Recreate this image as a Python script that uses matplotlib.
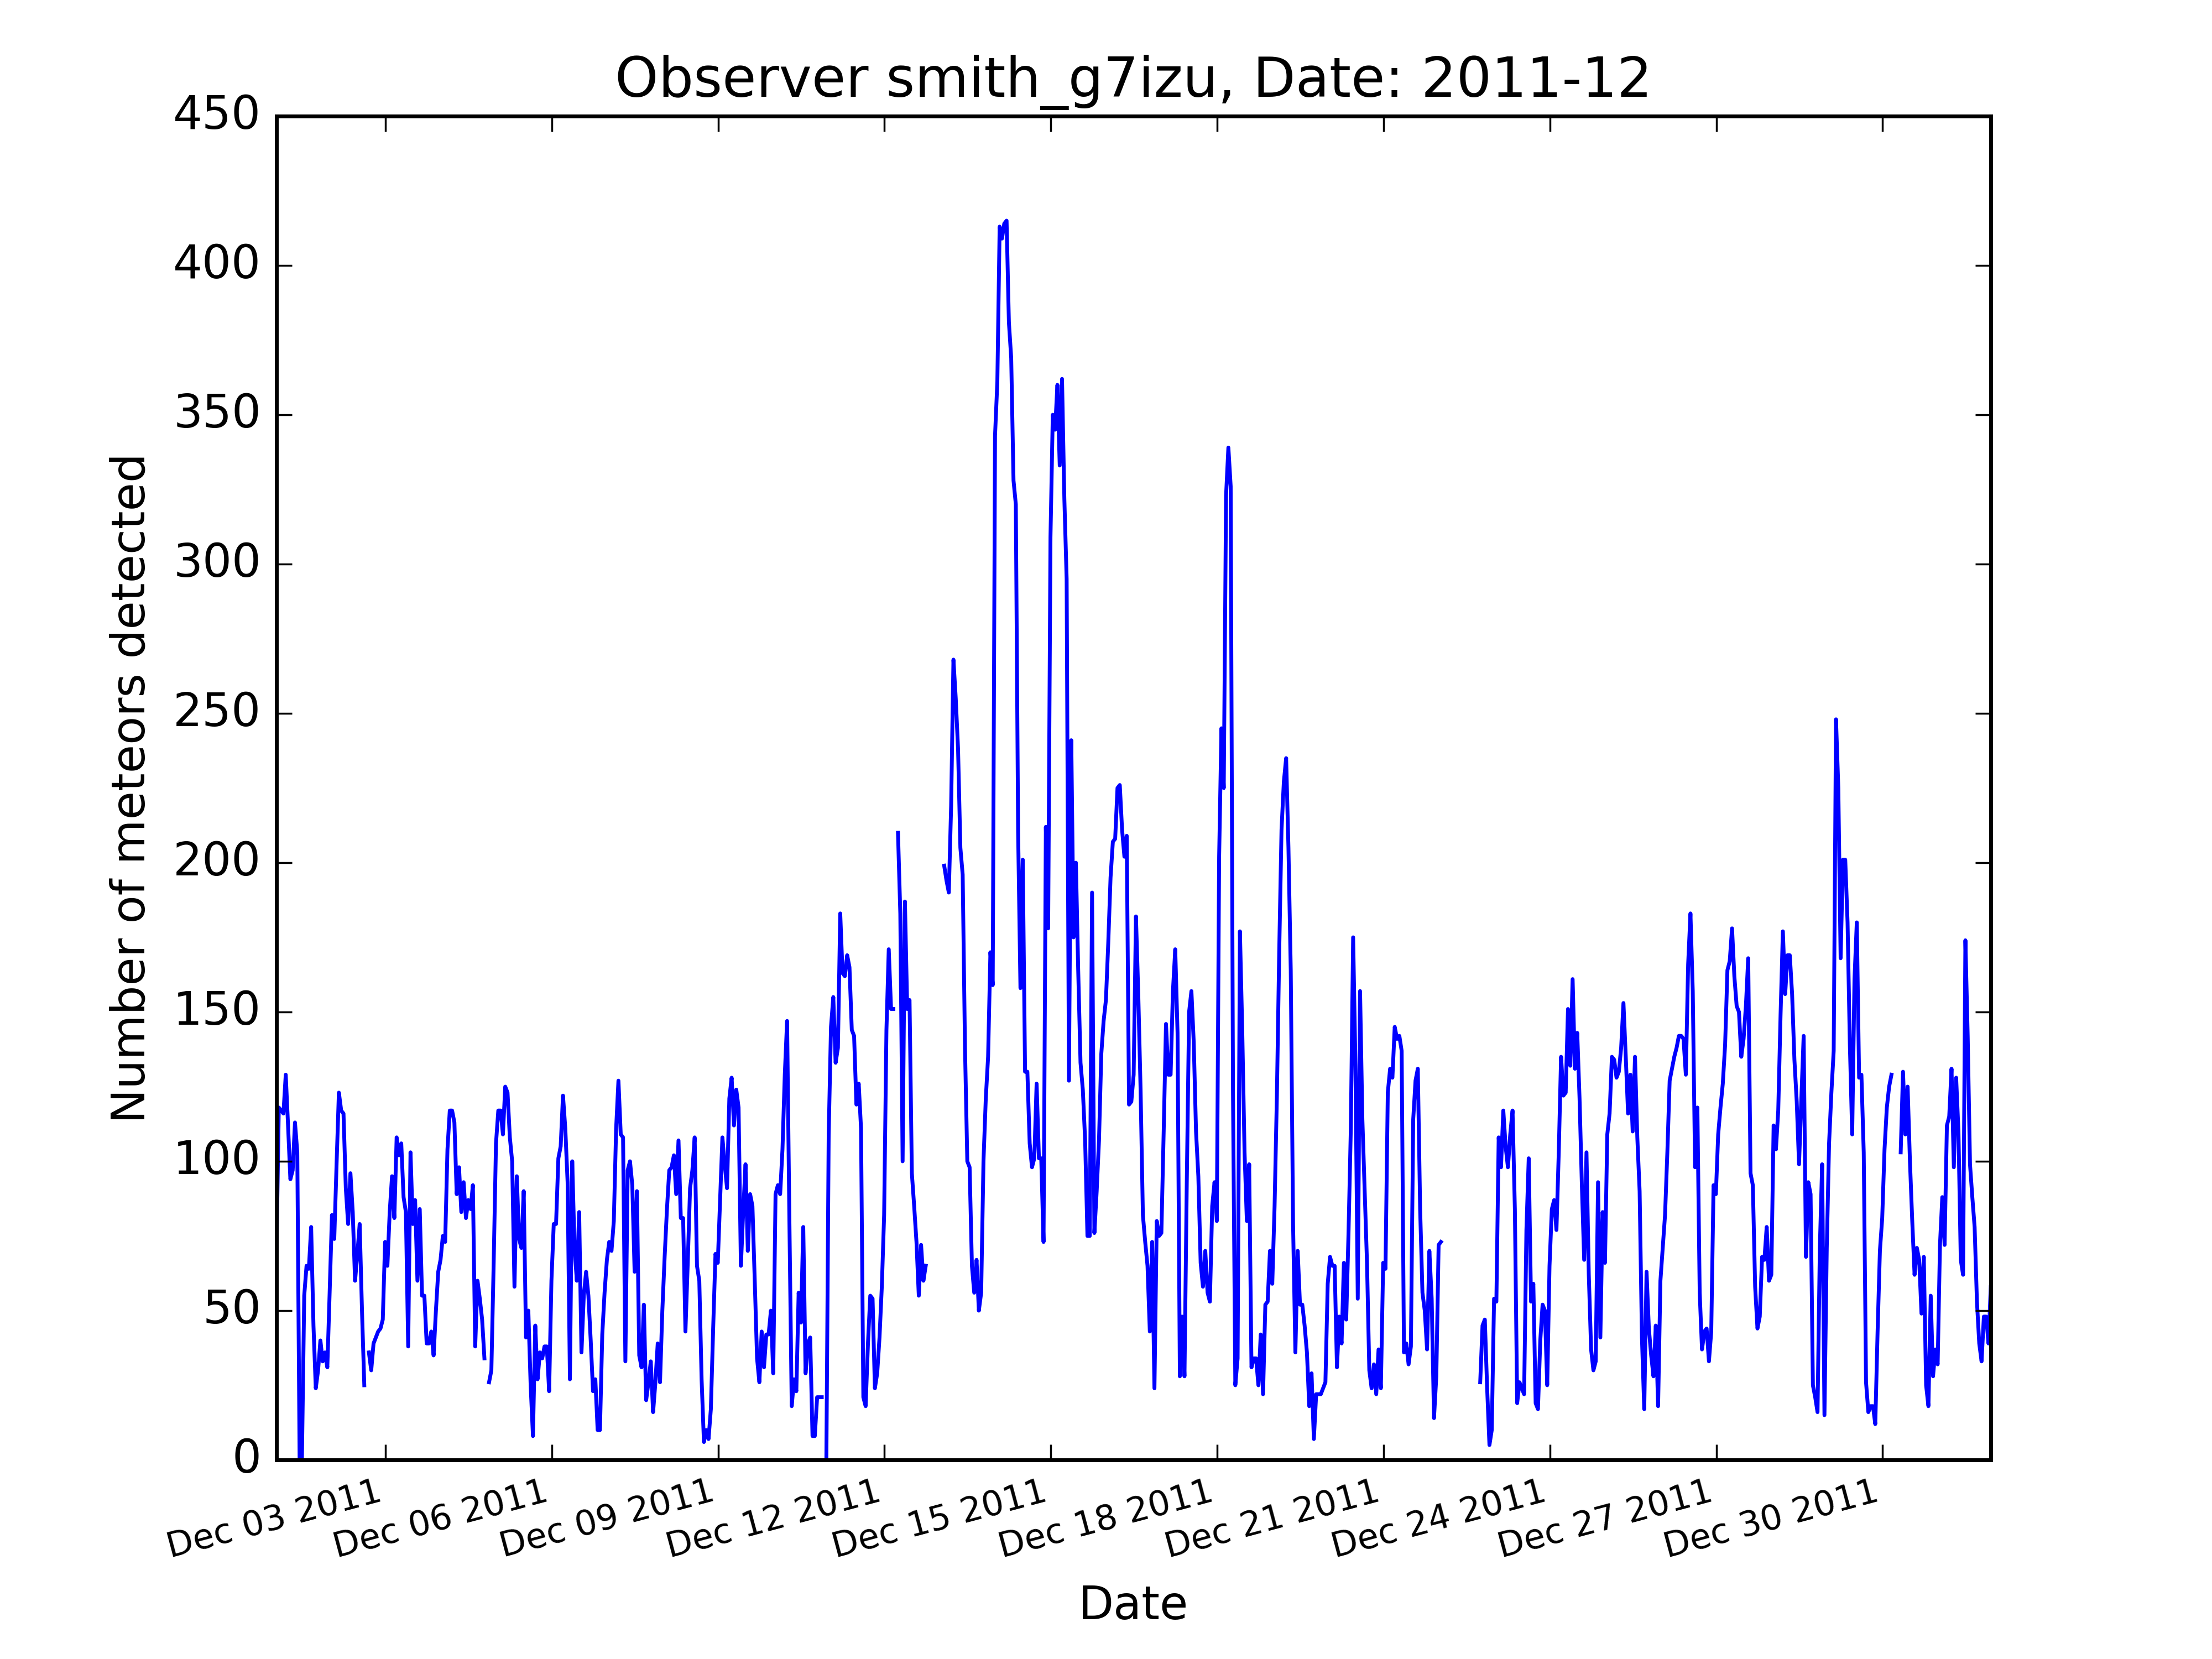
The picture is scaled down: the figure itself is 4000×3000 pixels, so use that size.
import numpy as np
import pandas as pd
import matplotlib
matplotlib.use('Agg')
import matplotlib.pyplot as plt
import matplotlib.dates as mdates

nan = np.nan

# hourly meteor counts, one list per day (first sample at 00:50 on Dec 1)
dec01 = [70, 118, 117, 116, 129, 112, 94, 97, 113, 103, 0, 0, 55, 65, 64, 78, 45, 24, 30, 40, 33, 36, 31, 56]
dec02 = [82, 74, 99, 123, 117, 116, 91, 79, 96, 83, 60, 69, 79, 50, 25, nan, 36, 30, 39, 41, 43, 44, 47, 73]
dec03 = [65, 83, 95, 81, 108, 102, 106, 88, 83, 38, 103, 79, 87, 60, 84, 55, 55, 39, 39, 43, 35, 50, 63, 67]
dec04 = [75, 73, 104, 117, 117, 113, 89, 98, 83, 93, 81, 87, 84, 92, 38, 60, 54, 47, 34, nan, 26, 30, 66, 106]
dec05 = [117, 117, 109, 125, 123, 108, 100, 58, 95, 74, 71, 90, 41, 50, 25, 8, 45, 27, 36, 34, 38, 38, 23, 60]
dec06 = [79, 79, 101, 105, 122, 111, 93, 27, 100, 71, 60, 83, 36, 55, 63, 55, 40, 23, 27, 10, 10, 42, 56, 67]
dec07 = [73, 70, 80, 111, 127, 109, 108, 33, 97, 100, 92, 63, 90, 35, 31, 52, 20, 26, 33, 16, 26, 39, 26, 50]
dec08 = [68, 84, 97, 98, 102, 89, 107, 81, 81, 43, 66, 91, 97, 108, 65, 60, 27, 6, 10, 7, 17, 44, 69, 66]
dec09 = [87, 108, 99, 91, 121, 128, 112, 124, 118, 65, 83, 99, 70, 89, 85, 60, 34, 26, 43, 31, 42, 42, 50, 29]
dec10 = [89, 92, 89, 104, 129, 147, 80, 18, 27, 23, 56, 46, 78, 29, 39, 41, 8, 8, 21, 21, 21, nan, 0, 109]
dec11 = [145, 155, 133, 138, 183, 163, 162, 169, 165, 144, 142, 119, 126, 111, 21, 18, 39, 55, 54, 24, 29, 41, 58, 82]
dec12 = [144, 171, 151, 151, nan, 210, 183, 100, 187, 151, 154, 96, 85, 73, 55, 72, 60, 65, nan, nan, nan, nan, nan, nan]
dec13 = [nan, 199, 194, 190, 219, 268, 255, 238, 205, 196, 138, 100, 98, 65, 56, 67, 50, 56, 100, 121, 135, 170, 159, 343]
dec14 = [361, 413, 409, 414, 415, 381, 369, 328, 320, 210, 158, 201, 130, 130, 106, 98, 101, 126, 101, 101, 73, 212, 178, 309]
dec15 = [350, 345, 360, 333, 362, 322, 295, 127, 241, 175, 200, 164, 133, 124, 107, 75, 75, 190, 76, 90, 107, 136, 147, 154]
dec16 = [173, 195, 207, 208, 225, 226, 211, 202, 209, 119, 120, 129, 182, 156, 124, 82, 73, 65, 43, 73, 24, 80, 75, 76]
dec17 = [110, 146, 129, 129, 157, 171, 143, 28, 48, 28, 93, 150, 157, 140, 110, 95, 66, 58, 70, 56, 53, 85, 93, 80]
dec18 = [202, 245, 225, 323, 339, 326, 123, 25, 34, 177, 144, 103, 80, 99, 31, 34, 34, 25, 42, 22, 52, 53, 70, 59]
dec19 = [85, 122, 170, 211, 227, 235, 205, 164, 79, 36, 70, 52, 52, 45, 36, 18, 29, 7, 22, 22, 22, 24, 26, 59]
dec20 = [68, 65, 65, 31, 48, 39, 66, 47, 76, 111, 175, 132, 54, 157, 114, 90, 66, 30, 24, 32, 22, 37, 24, 66]
dec21 = [64, 123, 131, 128, 145, 141, 142, 137, 36, 39, 32, 38, 114, 127, 131, 84, 56, 50, 37, 70, 54, 14, 28, 72]
dec22 = [73] + [nan] * 16 + [26, 45, 47, 24, 5, 10, 54]
dec23 = [53, 108, 98, 117, 105, 98, 109, 117, 84, 19, 26, 24, 22, 77, 101, 53, 59, 19, 17, 40, 52, 50, 25, 65]
dec24 = [84, 87, 77, 103, 135, 122, 123, 151, 132, 161, 131, 143, 121, 92, 67, 103, 62, 37, 30, 33, 93, 41, 83, 66]
dec25 = [109, 116, 135, 134, 128, 130, 138, 153, 135, 116, 129, 110, 135, 108, 90, 41, 17, 63, 44, 35, 28, 45, 18, 60]
dec26 = [71, 82, 103, 127, 131, 135, 138, 142, 142, 141, 129, 166, 183, 157, 98, 118, 56, 37, 43, 44, 33, 43, 92, 89]
dec27 = [109, 118, 126, 139, 164, 167, 178, 162, 152, 150, 135, 141, 152, 168, 96, 92, 58, 44, 48, 68, 67, 78, 60, 62]
dec28 = [112, 104, 117, 149, 177, 156, 169, 169, 156, 134, 120, 99, 121, 142, 68, 93, 89, 25, 21, 16, 71, 99, 15, 71]
dec29 = [106, 123, 137, 248, 225, 168, 201, 201, 180, 139, 109, 161, 180, 128, 129, 103, 26, 16, 18, 18, 12, 43, 70, 81]
dec30 = [104, 118, 125, 129, nan, nan, nan, 103, 130, 109, 125, 100, 80, 62, 71, 67, 49, 68, 25, 18, 55, 28, 37, 32]
dec31 = [72, 88, 72, 112, 115, 131, 98, 128, 110, 67, 62, 174, 142, 99, 88, 78, 53, 39, 33, 48, 48, 39, 58]

days = [dec01, dec02, dec03, dec04, dec05, dec06, dec07, dec08, dec09, dec10,
        dec11, dec12, dec13, dec14, dec15, dec16, dec17, dec18, dec19, dec20,
        dec21, dec22, dec23, dec24, dec25, dec26, dec27, dec28, dec29, dec30, dec31]

counts = np.array(sum(days, []), dtype=float)
times = pd.date_range('2011-12-01 00:50', periods=len(counts), freq='h').to_pydatetime()

plt.style.use('classic')

fig = plt.figure(figsize=(8, 6))
ax = fig.add_axes([0.125, 0.12, 0.775, 0.81])
ax.plot(times, counts, color='b', lw=1.0)

ax.set_xlim(times[0], times[-1])
ax.set_ylim(0, 450)
ax.xaxis.set_major_locator(mdates.DayLocator(bymonthday=range(3, 31, 3)))
ax.xaxis.set_major_formatter(mdates.DateFormatter('%b %d %Y'))
plt.setp(ax.get_xticklabels(), rotation=15, ha='right', fontsize=9)

ax.set_xlabel('Date')
ax.set_ylabel('Number of meteors detected')
ax.set_title('Observer smith_g7izu, Date: 2011-12')

fig.savefig('out.png', dpi=500)
